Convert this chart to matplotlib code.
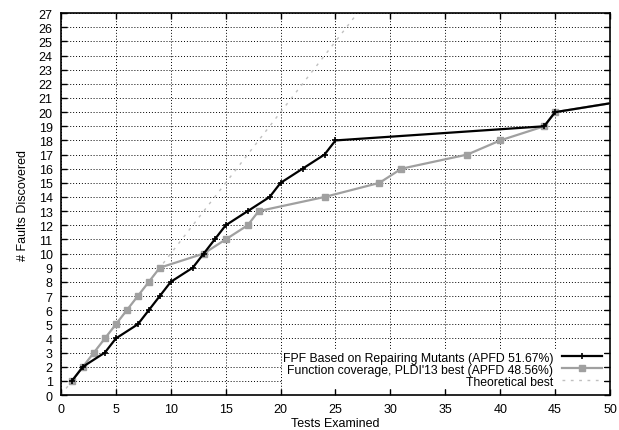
import matplotlib
matplotlib.use('Agg')
import matplotlib.pyplot as plt

plt.rcParams['font.family'] = ['Liberation Sans', 'DejaVu Sans']
plt.rcParams['font.size'] = 9

# FPF based on repairing mutants
fpf_x = [1, 2, 4, 5, 7, 8, 9, 10, 12, 13, 14, 15, 17, 19, 20, 22, 24, 25, 44, 45, 53]
fpf_y = [1, 2, 3, 4, 5, 6, 7, 8, 9, 10, 11, 12, 13, 14, 15, 16, 17, 18, 19, 20, 21]

# function coverage, PLDI'13 best
cov_x = [1, 2, 3, 4, 5, 6, 7, 8, 9, 13, 15, 17, 18, 24, 29, 31, 37, 40, 44, 45, 53]
cov_y = [1, 2, 3, 4, 5, 6, 7, 8, 9, 10, 11, 12, 13, 14, 15, 16, 17, 18, 19, 20, 21]

best_x = [0, 27]
best_y = [0, 27]

fig = plt.figure(figsize=(6.19, 4.31), dpi=100)
ax = fig.add_axes([0.0985, 0.0812, 0.887, 0.886])

ax.plot(fpf_x, fpf_y, color='black', lw=1.6, marker='+', ms=5, mew=1.2,
        label='FPF Based on Repairing Mutants (APFD 51.67%)', zorder=4)
ax.plot(cov_x, cov_y, color='#a0a0a0', lw=1.6, marker='s', ms=4.5,
        label="Function coverage, PLDI'13 best (APFD 48.56%)", zorder=3)
ax.plot(best_x, best_y, color='#c0c0c0', lw=1, ls=(0, (2, 4)),
        label='Theoretical best', zorder=2)

ax.set_xlim(0, 50)
ax.set_ylim(0, 27)
ax.set_xticks(range(0, 51, 5))
ax.set_yticks(range(0, 28))
ax.tick_params(direction='in', top=True, right=True, length=4, width=1, pad=6)
ax.grid(True, color='black', ls=(0, (1, 2)), lw=0.7)
for s in ax.spines.values():
    s.set_linewidth(1.2)

ax.set_xlabel('Tests Examined', labelpad=1)
ax.set_ylabel('# Faults Discovered', labelpad=7)

leg = ax.legend(loc='lower right', bbox_to_anchor=(0.988, 0.016), markerfirst=False,
                frameon=True, framealpha=1, edgecolor='none', fancybox=False,
                fontsize=8.8, labelspacing=0.0, handlelength=3.3, handletextpad=0.7,
                borderpad=0.1, borderaxespad=0)
leg.set_zorder(5)

fig.savefig('out.png', dpi=100)
